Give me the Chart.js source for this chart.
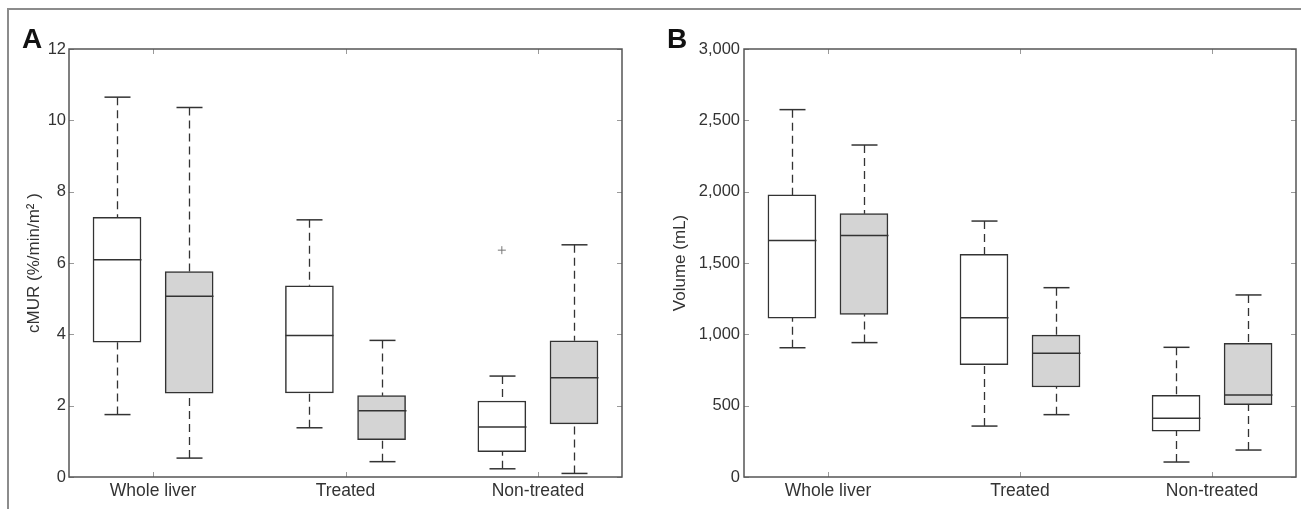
<!DOCTYPE html>
<html>
<head>
<meta charset="utf-8">
<script src="https://cdn.jsdelivr.net/npm/chart.js@4.4.1/dist/chart.umd.min.js"></script>
<style>
  html, body { margin: 0; padding: 0; background: #fff; }
  #fig { position: relative; width: 1301px; height: 509px; overflow: hidden; }
  #frame { position: absolute; left: 7px; top: 8px; width: 1310px; height: 520px;
           border-top: 2px solid #8c8c8c; border-left: 2px solid #8c8c8c; }
  .panel { position: absolute; top: 0; height: 509px; }
</style>
</head>
<body>
<div id="fig">
  <div id="frame"></div>
  <div class="panel" style="left:0;width:650px"><canvas id="chartA"></canvas></div>
  <div class="panel" style="left:650px;width:651px"><canvas id="chartB"></canvas></div>
</div>
<script>
// categories on the x axis
const categories = ['Whole liver', 'Treated', 'Non-treated'];

// box summaries per category: [lower whisker, Q1, median, Q3, upper whisker]
const cmurOpen   = [[1.75, 3.78, 6.09, 7.28, 10.65], [1.38, 2.36, 3.97, 5.36, 7.21], [0.23, 0.71, 1.40, 2.13, 2.83]];
const cmurFilled = [[0.53, 2.35, 5.07, 5.76, 10.36], [0.43, 1.05, 1.86, 2.28, 3.83], [0.10, 1.49, 2.78, 3.82, 6.51]];
const cmurOutlierCat = [3];
const cmurOutlierVal = [6.36];

const volumeOpen   = [[906, 1114, 1657, 1977, 2575], [357, 787, 1117, 1561, 1794], [105, 322, 411, 572, 909]];
const volumeFilled = [[942, 1140, 1692, 1846, 2327], [437, 631, 867, 995, 1327], [189, 507, 575, 937, 1276]];

// y axis ticks
const cmurTicks = [0, 2, 4, 6, 8, 10, 12];
const volumeTicks = [0, 500, 1000, 1500, 2000, 2500, 3000];

const FONT = '"Liberation Sans", Arial, sans-serif';
const INK = '#333';
const OFFSET = 0.1875;   // open box left of category, filled box right
const BOX_W = 48;
const CAP_HALF = 13;

function line(ctx, x1, y1, x2, y2) {
  ctx.beginPath();
  ctx.moveTo(x1, y1);
  ctx.lineTo(x2, y2);
  ctx.stroke();
}

// whiskers, caps, medians, axes frame with inward ticks, panel letter
const boxExtras = {
  id: 'boxExtras',
  afterDatasetsDraw(chart, args, opts) {
    const { ctx, chartArea: a, scales: { x, y } } = chart;
    ctx.save();
    opts.groups.forEach(g => {
      g.stats.forEach((s, i) => {
        const cx = Math.round(x.getPixelForValue(i + 1 + g.offset)) + 0.5;
        const yMin = y.getPixelForValue(s[0]), yQ1 = y.getPixelForValue(s[1]);
        const yMed = y.getPixelForValue(s[2]), yQ3 = y.getPixelForValue(s[3]);
        const yMax = y.getPixelForValue(s[4]);
        ctx.strokeStyle = INK;
        ctx.lineWidth = 1.3;
        ctx.setLineDash([8, 5]);
        line(ctx, cx, yMax, cx, yQ3);
        line(ctx, cx, yMin, cx, yQ1);
        ctx.setLineDash([]);
        ctx.lineWidth = 1.5;
        line(ctx, cx - CAP_HALF, yMax, cx + CAP_HALF, yMax);
        line(ctx, cx - CAP_HALF, yMin, cx + CAP_HALF, yMin);
        line(ctx, cx - BOX_W / 2, yMed, cx + BOX_W / 2, yMed);
      });
    });

    // inward tick marks on all four sides
    ctx.strokeStyle = '#9a9a9a';
    ctx.lineWidth = 1;
    y.ticks.forEach(t => {
      const py = Math.round(y.getPixelForValue(t.value)) + 0.5;
      line(ctx, a.left, py, a.left + 5, py);
      line(ctx, a.right - 5, py, a.right, py);
    });
    x.ticks.forEach(t => {
      const px = Math.round(x.getPixelForValue(t.value)) + 0.5;
      line(ctx, px, a.bottom, px, a.bottom - 5);
      line(ctx, px, a.top, px, a.top + 5);
    });

    ctx.strokeStyle = '#555';
    ctx.lineWidth = 1.5;
    ctx.strokeRect(a.left, a.top, a.right - a.left, a.bottom - a.top);

    ctx.fillStyle = '#111';
    ctx.font = 'bold 28px ' + FONT;
    ctx.textBaseline = 'alphabetic';
    ctx.fillText(opts.letter, opts.letterX, 48);
    ctx.restore();
  }
};

function boxData(stats, offset) {
  return stats.map((s, i) => ({ x: i + 1 + offset, y: [s[1], s[3]] }));
}

function makeChart(id, cfg) {
  const datasets = [
    { type: 'bar', data: boxData(cfg.open, -OFFSET), backgroundColor: '#ffffff' },
    { type: 'bar', data: boxData(cfg.filled, OFFSET), backgroundColor: '#d4d4d4' }
  ].map(d => Object.assign(d, {
    borderColor: INK, borderWidth: 1.5, borderSkipped: false,
    barThickness: BOX_W, grouped: false
  }));
  if (cfg.outlierCat) {
    datasets.push({
      type: 'scatter',
      data: cfg.outlierCat.map((c, i) => ({ x: c - OFFSET, y: cfg.outlierVal[i] })),
      pointStyle: 'cross', radius: 4, borderColor: '#777', borderWidth: 1
    });
  }

  return new Chart(document.getElementById(id), {
    type: 'bar',
    data: { datasets },
    options: {
      responsive: true,
      maintainAspectRatio: false,
      animation: false,
      layout: { padding: { top: 49, right: cfg.padRight, left: 0, bottom: 0 } },
      scales: {
        x: {
          type: 'linear', min: 0.563, max: 3.437, offset: false,
          afterBuildTicks: s => { s.ticks = [1, 2, 3].map(v => ({ value: v })); },
          afterFit: s => { s.height = 32; },
          grid: { display: false, drawTicks: false, offset: false },
          border: { display: false },
          ticks: {
            autoSkip: false, maxRotation: 0, padding: 4, color: INK,
            font: { family: FONT, size: 17.5 },
            callback: v => categories[v - 1]
          }
        },
        y: {
          min: cfg.ticks[0], max: cfg.ticks[cfg.ticks.length - 1],
          afterBuildTicks: s => { s.ticks = cfg.ticks.map(v => ({ value: v })); },
          afterFit: s => { s.width = cfg.axisWidth; },
          grid: { display: false, drawTicks: false },
          border: { display: false },
          ticks: { padding: cfg.tickPad, color: INK, font: { family: FONT, size: 16.5 } },
          title: {
            display: true, text: cfg.title, color: INK,
            font: { family: FONT, size: 17 },
            padding: { top: cfg.titlePad, bottom: 0 }
          }
        }
      },
      plugins: {
        legend: { display: false },
        tooltip: { enabled: false },
        boxExtras: {
          letter: cfg.letter, letterX: cfg.letterX,
          groups: [{ stats: cfg.open, offset: -OFFSET }, { stats: cfg.filled, offset: OFFSET }]
        }
      }
    },
    plugins: [boxExtras]
  });
}

makeChart('chartA', {
  open: cmurOpen, filled: cmurFilled,
  outlierCat: cmurOutlierCat, outlierVal: cmurOutlierVal,
  ticks: cmurTicks, title: 'cMUR (%/min/m\u00B2 )',
  axisWidth: 69, padRight: 28, tickPad: 3, titlePad: 24,
  letter: 'A', letterX: 22
});

makeChart('chartB', {
  open: volumeOpen, filled: volumeFilled,
  ticks: volumeTicks, title: 'Volume (mL)',
  axisWidth: 94, padRight: 5, tickPad: 4, titlePad: 20,
  letter: 'B', letterX: 17
});
</script>
</body>
</html>
